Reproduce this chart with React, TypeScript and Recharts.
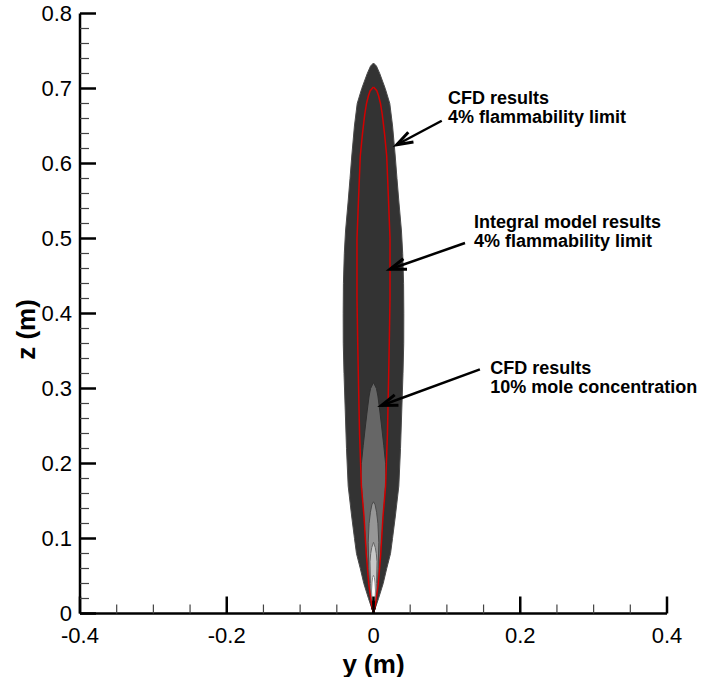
import React from 'react';
import { ComposedChart, Area, XAxis, YAxis, ReferenceLine, ReferenceDot, Label } from 'recharts';

// ---- axis ticks ----
const xTicks = [-0.4, -0.35, -0.3, -0.25, -0.2, -0.15, -0.1, -0.05, 0, 0.05, 0.1, 0.15, 0.2, 0.25, 0.3, 0.35, 0.4];
const xMajorValues = [-0.4, -0.2, 0, 0.2, 0.4];
const xMajorLabels = ['-0.4', '-0.2', '0', '0.2', '0.4'];
const zTicks = [0, 0.02, 0.04, 0.06, 0.08, 0.1, 0.12, 0.14, 0.16, 0.18, 0.2, 0.22, 0.24, 0.26, 0.28, 0.3, 0.32, 0.34, 0.36, 0.38, 0.4,
  0.42, 0.44, 0.46, 0.48, 0.5, 0.52, 0.54, 0.56, 0.58, 0.6, 0.62, 0.64, 0.66, 0.68, 0.7, 0.72, 0.74, 0.76, 0.78, 0.8];
const zMajorValues = [0, 0.1, 0.2, 0.3, 0.4, 0.5, 0.6, 0.7, 0.8];
const zMajorLabels = ['0', '0.1', '0.2', '0.3', '0.4', '0.5', '0.6', '0.7', '0.8'];

// ---- contours: height z (m) and half-width y (m) ----
const outerZ = [0, 0.02, 0.04, 0.06, 0.08, 0.1, 0.13, 0.17, 0.22, 0.27, 0.32, 0.36, 0.4, 0.44, 0.48, 0.51, 0.55, 0.58, 0.61, 0.65, 0.68, 0.7, 0.72, 0.73, 0.734];
const outerHW = [0, 0.0068, 0.0132, 0.018, 0.0232, 0.0259, 0.0298, 0.0345, 0.0368, 0.0385, 0.0402, 0.0412, 0.0413, 0.041, 0.0398, 0.0381, 0.0345, 0.032, 0.0296, 0.026, 0.0222, 0.016, 0.0085, 0.004, 0];

const midZ = [0, 0.013, 0.04, 0.08, 0.13, 0.18, 0.2, 0.224, 0.25, 0.27, 0.29, 0.3, 0.308];
const midHW = [0, 0.0037, 0.0068, 0.0099, 0.0136, 0.0172, 0.0165, 0.014, 0.011, 0.0086, 0.006, 0.004, 0];

const band3Z = [0, 0.01, 0.03, 0.06, 0.095, 0.12, 0.135, 0.145, 0.149];
const band3HW = [0, 0.002, 0.0048, 0.0064, 0.0072, 0.006, 0.0042, 0.0022, 0];

const band4Z = [0, 0.02, 0.04, 0.069, 0.08, 0.088, 0.095];
const band4HW = [0, 0.0027, 0.0041, 0.0048, 0.0038, 0.0024, 0];

const band5Z = [0, 0.018, 0.03, 0.042, 0.048, 0.051];
const band5HW = [0, 0.002, 0.0027, 0.002, 0.0012, 0];

const coreZ = [0, 0.008, 0.014, 0.018];
const coreHW = [0, 0.0027, 0.0022, 0];

const integralZ = [0, 0.013, 0.04, 0.08, 0.13, 0.17, 0.24, 0.31, 0.36, 0.42, 0.5, 0.55, 0.61, 0.64, 0.665, 0.68, 0.69, 0.697, 0.702];
const integralHW = [0, 0.0027, 0.0066, 0.0099, 0.013, 0.0165, 0.019, 0.0205, 0.0215, 0.0225, 0.0225, 0.0205, 0.018, 0.015, 0.012, 0.0095, 0.007, 0.0045, 0];

// ---- annotations (data coordinates) ----
const noteLines = [
  ['CFD results', '4% flammability limit'],
  ['Integral model results', '4% flammability limit'],
  ['CFD results', '10% mole concentration'],
];
const noteY = [0.1015, 0.137, 0.159];
const noteZ = [0.679, 0.514, 0.319];
const arrowTailY = [0.093, 0.1247, 0.145];
const arrowTailZ = [0.657, 0.494, 0.3256];
const arrowHeadY = [0.0316, 0.0225, 0.0109];
const arrowHeadZ = [0.625, 0.459, 0.2773];

const series = [
  { key: 'outer', z: outerZ, hw: outerHW },
  { key: 'mid', z: midZ, hw: midHW },
  { key: 'band3', z: band3Z, hw: band3HW },
  { key: 'band4', z: band4Z, hw: band4HW },
  { key: 'band5', z: band5Z, hw: band5HW },
  { key: 'core', z: coreZ, hw: coreHW },
  { key: 'integral', z: integralZ, hw: integralHW },
];

const allZ = Array.from(new Set(series.flatMap((s) => s.z))).sort((a, b) => a - b);
const table = allZ.map((z) => {
  const row: any = { z };
  series.forEach((s) => {
    const i = s.z.indexOf(z);
    row[s.key] = i >= 0 ? [-s.hw[i], s.hw[i]] : [null, null];
  });
  return row;
});

const FONT = 'Liberation Sans, Arial, Helvetica, sans-serif';

const findLabel = (v: number, values: number[], labels: string[]) => {
  const i = values.findIndex((m) => Math.abs(m - v) < 1e-9);
  return i >= 0 ? labels[i] : undefined;
};

const YTick = (p: any) => {
  const v = p.payload.value;
  const lab = findLabel(v, zMajorValues, zMajorLabels);
  const major = lab !== undefined;
  return (
    <g>
      <line x1={p.x} x2={p.x + (major ? 16 : 9)} y1={p.y} y2={p.y} stroke={major ? '#000' : '#444'} strokeWidth={major ? 2.5 : 1.2} />
      {major && (
        <text x={p.x - 8} y={p.y} textAnchor="end" dominantBaseline="central" fontSize={22} fontFamily={FONT} fill="#000">
          {lab}
        </text>
      )}
    </g>
  );
};

const XTick = (p: any) => {
  const v = p.payload.value;
  const lab = findLabel(v, xMajorValues, xMajorLabels);
  const major = lab !== undefined;
  return (
    <g>
      <line x1={p.x} x2={p.x} y1={p.y} y2={p.y - (major ? 17 : 9)} stroke={major ? '#000' : '#444'} strokeWidth={major ? 2.5 : 1.2} />
      {major && (
        <text x={p.x} y={p.y + 22} textAnchor="middle" dominantBaseline="central" fontSize={22} fontFamily={FONT} fill="#000">
          {lab}
        </text>
      )}
    </g>
  );
};

const Arrow = (p: any) => {
  const { x1, y1, x2, y2 } = p;
  const ang = Math.atan2(y2 - y1, x2 - x1);
  const L = 17;
  const a = 0.33;
  const bx1 = x2 - L * Math.cos(ang - a);
  const by1 = y2 - L * Math.sin(ang - a);
  const bx2 = x2 - L * Math.cos(ang + a);
  const by2 = y2 - L * Math.sin(ang + a);
  return (
    <g>
      <line x1={x1} y1={y1} x2={x2} y2={y2} stroke="#000" strokeWidth={2.5} />
      <polyline points={`${bx1},${by1} ${x2},${y2} ${bx2},${by2}`} fill="none" stroke="#000" strokeWidth={3} />
    </g>
  );
};

const makeNote = (lines: string[]) => (p: any) => (
  <text x={p.cx} y={p.cy} fontSize={18} fontWeight="bold" fontFamily={FONT} fill="#000">
    <tspan x={p.cx} dy={0}>{lines[0]}</tspan>
    <tspan x={p.cx} dy={18.7}>{lines[1]}</tspan>
  </text>
);

const ZTitle = (props: any) => {
  const { x, y, height } = props.viewBox;
  const cx = x + 26;
  const cy = y + height / 2 + 16;
  return (
    <text x={cx} y={cy} transform={`rotate(-90, ${cx}, ${cy})`} textAnchor="middle" dominantBaseline="central" fontSize={26} fontWeight="bold" fontFamily={FONT} fill="#000">
      z (m)
    </text>
  );
};

const YTitle = (props: any) => {
  const { x, y, width } = props.viewBox;
  return (
    <text x={x + width / 2} y={y + 50} textAnchor="middle" dominantBaseline="central" fontSize={26} fontWeight="bold" fontFamily={FONT} fill="#000">
      y (m)
    </text>
  );
};

const fills: Record<string, { fill: string; stroke: string }> = {
  outer: { fill: '#333333', stroke: '#4a4a4a' },
  mid: { fill: '#666666', stroke: '#2e2e2e' },
  band3: { fill: '#979797', stroke: '#4a4a4a' },
  band4: { fill: '#c8c8c8', stroke: '#666666' },
  band5: { fill: '#ffffff', stroke: '#888888' },
  core: { fill: '#000000', stroke: '#000000' },
};

export default function App() {
  return (
    <div style={{ position: 'absolute', left: 0, top: 0, width: 706, height: 677, background: '#fff' }}>
      <ComposedChart width={706} height={677} layout="vertical" data={table} margin={{ top: 13.5, right: 39, bottom: 0, left: 0 }}>
        <XAxis
          type="number"
          domain={[-0.4, 0.4]}
          ticks={xTicks}
          interval={0}
          height={63.5}
          tickSize={0}
          tickMargin={0}
          tickLine={false}
          tick={XTick}
          axisLine={{ stroke: '#000', strokeWidth: 2.5 }}
        >
          <Label content={YTitle} />
        </XAxis>
        <YAxis
          type="number"
          dataKey="z"
          domain={[0, 0.8]}
          reversed
          ticks={zTicks}
          interval={0}
          width={80}
          tickSize={0}
          tickMargin={0}
          tickLine={false}
          tick={YTick}
          axisLine={{ stroke: '#000', strokeWidth: 2.5 }}
        >
          <Label content={ZTitle} />
        </YAxis>
        {['outer', 'mid', 'band3', 'band4', 'band5', 'core'].map((k) => (
          <Area
            key={k}
            dataKey={k}
            type="linear"
            connectNulls
            fill={fills[k].fill}
            fillOpacity={1}
            stroke={fills[k].stroke}
            strokeWidth={1}
            dot={false}
            activeDot={false}
            isAnimationActive={false}
          />
        ))}
        <Area
          dataKey="integral"
          type="linear"
          connectNulls
          fill="none"
          fillOpacity={0}
          stroke="#d40000"
          strokeWidth={1.5}
          dot={false}
          activeDot={false}
          isAnimationActive={false}
        />
        {noteLines.map((lines, i) => (
          <ReferenceLine
            key={`a${i}`}
            segment={[
              { x: arrowTailY[i], y: arrowTailZ[i] },
              { x: arrowHeadY[i], y: arrowHeadZ[i] },
            ]}
            shape={Arrow}
          />
        ))}
        {noteLines.map((lines, i) => (
          <ReferenceDot key={`n${i}`} x={noteY[i]} y={noteZ[i]} r={0} shape={makeNote(lines)} />
        ))}
      </ComposedChart>
    </div>
  );
}
